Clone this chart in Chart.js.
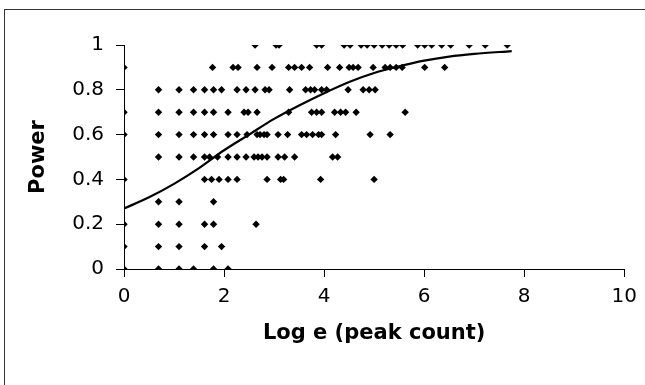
<!DOCTYPE html>
<html>
<head>
<meta charset="utf-8">
<script src="https://cdn.jsdelivr.net/npm/chart.js@4/dist/chart.umd.min.js"></script>
<style>
  html, body { margin: 0; padding: 0; background: #fff; overflow: hidden; }
  #wrap { position: relative; width: 645px; height: 385px; }
  #frame { position: absolute; left: 4px; top: 9px; width: 700px; height: 400px; border: 1px solid #333; box-sizing: border-box; }
  canvas { position: absolute; left: 0; top: 0; }
</style>
</head>
<body>
<div id="wrap">
  <div id="frame"></div>
  <canvas id="chart" width="645" height="385"></canvas>
</div>
<script>
// Log e (peak count) of each point, grouped by its power level
const powerLevels = [1.0, 0.9, 0.8, 0.7, 0.6, 0.5, 0.4, 0.3, 0.2, 0.1, 0.0];
const logCount100 = [2.62, 3.04, 3.10, 3.85, 3.95, 4.40, 4.52, 4.74, 4.86, 5.00, 5.16, 5.30, 5.44, 5.57, 5.87, 6.01, 6.15, 6.35, 6.53, 6.90, 7.22, 7.66];
const logCount090 = [0, 1.77, 2.18, 2.28, 2.66, 2.96, 3.29, 3.41, 3.55, 3.71, 4.07, 4.31, 4.50, 4.58, 4.68, 4.98, 5.22, 5.32, 5.44, 5.56, 6.01, 6.41];
const logCount080 = [0.69, 1.10, 1.39, 1.61, 1.79, 1.95, 2.26, 2.44, 2.62, 2.82, 2.90, 3.31, 3.63, 3.73, 3.81, 3.95, 4.05, 4.48, 4.78, 4.90, 5.02];
const logCount070 = [0, 0.69, 1.10, 1.39, 1.61, 1.79, 2.08, 2.40, 2.48, 2.66, 3.29, 3.75, 3.85, 3.95, 4.21, 4.33, 4.43, 4.64, 5.62];
const logCount060 = [0, 0.69, 1.10, 1.39, 1.61, 1.79, 2.08, 2.26, 2.46, 2.66, 2.72, 2.80, 2.86, 3.08, 3.27, 3.55, 3.65, 3.77, 3.89, 3.95, 4.23, 4.92, 5.32];
const logCount050 = [0.69, 1.10, 1.39, 1.61, 1.71, 1.87, 2.08, 2.26, 2.44, 2.60, 2.68, 2.76, 2.86, 3.08, 3.21, 3.41, 4.17, 4.27];
const logCount040 = [0, 1.61, 1.75, 1.90, 2.08, 2.26, 2.86, 3.13, 3.19, 3.93, 5.00];
const logCount030 = [0.69, 1.10, 1.79];
const logCount020 = [0, 0.69, 1.10, 1.61, 1.79, 2.64];
const logCount010 = [0, 0.69, 1.10, 1.61, 1.95];
const logCount000 = [0, 0.69, 1.10, 1.39, 1.79, 2.08];
const logCountRows = [logCount100, logCount090, logCount080, logCount070, logCount060, logCount050,
                      logCount040, logCount030, logCount020, logCount010, logCount000];

// fitted curve
const trendX = [0, 0.5, 1, 1.5, 2, 2.5, 3, 3.5, 4, 4.5, 5, 5.5, 6, 6.5, 7, 7.75];
const trendPower = [0.27, 0.32, 0.38, 0.45, 0.53, 0.60, 0.67, 0.73, 0.785, 0.835, 0.875, 0.905, 0.93, 0.948, 0.96, 0.973];

const xTicks = [0, 2, 4, 6, 8, 10];
const yTicks = [0, 0.2, 0.4, 0.6, 0.8, 1];

let points = [];
powerLevels.forEach((p, i) => {
    logCountRows[i].forEach(x => points.push({ x: x, y: p }));
});
const trend = trendX.map((x, i) => ({ x: x, y: trendPower[i] }));

const tickFont = { family: "'DejaVu Sans', sans-serif", size: 20 };
const titleFont = { family: "'DejaVu Sans', sans-serif", size: 21, weight: 'bold' };

const ctx = document.getElementById('chart').getContext('2d');
new Chart(ctx, {
    type: 'scatter',
    data: {
        datasets: [{
            label: 'Power',
            data: points,
            pointStyle: 'rectRot',
            pointRadius: 3.7,
            pointBackgroundColor: '#000',
            pointBorderWidth: 0,
            order: 2
        }, {
            label: 'Trend',
            data: trend,
            showLine: true,
            borderColor: '#000',
            borderWidth: 2.2,
            pointRadius: 0,
            cubicInterpolationMode: 'monotone',
            order: 1
        }]
    },
    options: {
        responsive: false,
        animation: false,
        layout: { padding: { left: 0, right: 17, top: 45, bottom: 0 } },
        plugins: {
            legend: { display: false },
            tooltip: { enabled: false }
        },
        scales: {
            x: {
                type: 'linear',
                min: 0,
                max: 10,
                afterBuildTicks: s => { s.ticks = xTicks.map(v => ({ value: v })); },
                afterFit: s => { s.height = 116; },
                grid: { drawOnChartArea: false, drawTicks: true, tickLength: 8, color: '#000' },
                border: { color: '#000', width: 1 },
                ticks: { color: '#000', font: tickFont, padding: 8, maxRotation: 0 },
                title: { display: true, text: 'Log e (peak count)', color: '#000', font: titleFont,
                         padding: { top: 0, bottom: 39 } }
            },
            y: {
                type: 'linear',
                min: 0,
                max: 1,
                afterBuildTicks: s => { s.ticks = yTicks.map(v => ({ value: v })); },
                afterFit: s => { s.width = 124; },
                grid: { drawOnChartArea: false, drawTicks: true, tickLength: 8, color: '#000' },
                border: { color: '#000', width: 1 },
                ticks: { color: '#000', font: tickFont, padding: 12, callback: v => String(+v.toFixed(1)) },
                title: { display: true, text: 'Power', color: '#000', font: titleFont,
                         padding: { top: 26, bottom: 0 } }
            }
        }
    }
});
</script>
</body>
</html>
